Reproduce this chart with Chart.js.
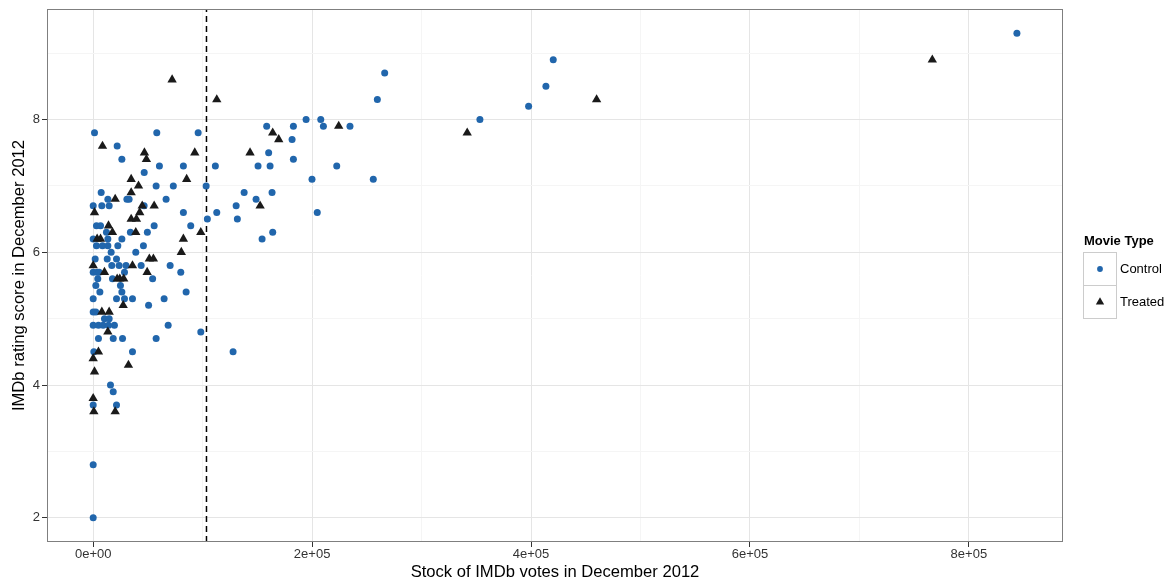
<!DOCTYPE html>
<html>
<head>
<meta charset="utf-8">
<title>IMDb votes vs rating</title>
<script src="https://cdn.jsdelivr.net/npm/chart.js@4.4.1/dist/chart.umd.min.js"></script>
<style>
  html, body { margin: 0; padding: 0; background: #fff; }
  canvas { display: block; }
</style>
</head>
<body>
<canvas id="chart" width="1167" height="582"></canvas>
<script>
// series
const seriesNames = ['Control', 'Treated'];
const seriesColors = ['#2166ac', '#1a1a1a'];

// [votes, rating]
const controlPoints = [
  [1200, 7.8], [58100, 7.8], [95900, 7.8],
  [21900, 7.6], [26200, 7.4],
  [60500, 7.3], [82400, 7.3], [111600, 7.3],
  [46600, 7.2],
  [57500, 7.0], [73200, 7.0], [103200, 7.0],
  [7300, 6.9],
  [13400, 6.8], [30800, 6.8], [32800, 6.8], [66600, 6.8],
  [0, 6.7], [7900, 6.7], [14600, 6.7], [46500, 6.7],
  [82400, 6.6], [112900, 6.6],
  [104300, 6.5],
  [3000, 6.4], [6700, 6.4], [55700, 6.4], [89100, 6.4],
  [12100, 6.3], [34000, 6.3], [49500, 6.3],
  [0, 6.2], [13400, 6.2], [26200, 6.2],
  [3000, 6.1], [8500, 6.1], [13400, 6.1], [22500, 6.1], [45900, 6.1],
  [16400, 6.0], [38900, 6.0],
  [1800, 5.9], [12800, 5.9], [21300, 5.9],
  [17000, 5.8], [23700, 5.8], [30000, 5.8], [43800, 5.8], [70300, 5.8],
  [0, 5.7], [3600, 5.7], [5500, 5.7], [28600, 5.7], [80000, 5.7],
  [4200, 5.6], [17600, 5.6], [54300, 5.6],
  [2400, 5.5], [24900, 5.5],
  [6100, 5.4], [26200, 5.4], [84900, 5.4],
  [0, 5.3], [21300, 5.3], [28600, 5.3], [35900, 5.3], [64800, 5.3],
  [50600, 5.2],
  [0, 5.1], [2400, 5.1],
  [10300, 5.0], [14600, 5.0],
  [0, 4.9], [4800, 4.9], [9100, 4.9], [14000, 4.9], [19400, 4.9], [68500, 4.9],
  [98300, 4.8],
  [4800, 4.7], [18300, 4.7], [26800, 4.7], [57500, 4.7],
  [600, 4.5], [35900, 4.5], [127800, 4.5],
  [15800, 4.0], [18300, 3.9],
  [0, 3.7], [21300, 3.7],
  [0, 2.8], [0, 2.0],
  [130600, 6.7], [131700, 6.5], [137900, 6.9], [148800, 6.8], [150600, 7.3],
  [154300, 6.2], [158500, 7.9], [160300, 7.5], [161600, 7.3], [163400, 6.9],
  [164000, 6.3], [181700, 7.7], [182900, 7.9], [182900, 7.4], [194500, 8.0],
  [199900, 7.1], [204700, 6.6], [207900, 8.0], [210300, 7.9], [222500, 7.3],
  [234600, 7.9], [255900, 7.1], [259600, 8.3], [266300, 8.7], [353300, 8.0],
  [397800, 8.2], [413600, 8.5], [420300, 8.9], [843900, 9.3]
];

const treatedPoints = [
  [72100, 8.6], [112900, 8.3],
  [8500, 7.6],
  [46800, 7.5], [92800, 7.5], [143300, 7.5],
  [48600, 7.4],
  [34700, 7.1], [85400, 7.1],
  [41400, 7.0],
  [34700, 6.9],
  [20100, 6.8],
  [44800, 6.7], [55700, 6.7], [152500, 6.7],
  [1200, 6.6], [42500, 6.6],
  [34700, 6.5], [39500, 6.5],
  [14000, 6.4],
  [17600, 6.3], [38900, 6.3], [98300, 6.3],
  [3600, 6.2], [6700, 6.2], [82400, 6.2],
  [80500, 6.0],
  [51300, 5.9], [55000, 5.9],
  [0, 5.8], [35900, 5.8],
  [10300, 5.7], [49300, 5.7],
  [21900, 5.6], [24300, 5.6], [27900, 5.6],
  [27400, 5.2],
  [7900, 5.1], [14600, 5.1],
  [13400, 4.8],
  [4800, 4.5],
  [0, 4.4],
  [32200, 4.3],
  [1200, 4.2],
  [0, 3.8],
  [600, 3.6], [20100, 3.6],
  [164000, 7.8], [169500, 7.7], [224300, 7.9], [341700, 7.8],
  [459900, 8.3], [766600, 8.9]
];

const cutoffVotes = 103500;

// axes
const xTickValues = [0, 200000, 400000, 600000, 800000];
const xTickLabels = ['0e+00', '2e+05', '4e+05', '6e+05', '8e+05'];
const yTickValues = [2, 4, 6, 8];
const yTickLabels = ['2', '4', '6', '8'];
const X_MIN = -42200, X_MAX = 886000;
const Y_MIN = 1.635, Y_MAX = 9.665;

const FONT = '"Liberation Sans", Arial, Helvetica, sans-serif';

function isMajor(list, v) {
  return list.some(m => Math.abs(m - v) < 1e-6);
}

function withMinor(majors, min, max) {
  const step = majors[1] - majors[0];
  const all = majors.slice();
  majors.forEach(m => {
    [m - step / 2, m + step / 2].forEach(v => {
      if (v > min && v < max && !all.some(a => Math.abs(a - v) < 1e-6)) all.push(v);
    });
  });
  return all.sort((a, b) => a - b);
}

function labelFor(values, labels, v) {
  const i = values.findIndex(m => Math.abs(m - v) < 1e-6);
  return i >= 0 ? labels[i] : '';
}

function toXY(points) {
  return points.map(([x, y]) => ({ x, y }));
}

function drawMarker(ctx, style, x, y, r, color) {
  ctx.save();
  ctx.fillStyle = color;
  ctx.beginPath();
  if (style === 'triangle') {
    const s = Math.sin(Math.PI / 3) * r;
    ctx.moveTo(x, y - r);
    ctx.lineTo(x + s, y + r / 2);
    ctx.lineTo(x - s, y + r / 2);
    ctx.closePath();
  } else {
    ctx.arc(x, y, r, 0, Math.PI * 2);
  }
  ctx.fill();
  ctx.restore();
}

// ggplot-like panel border drawn on top of the points
const panelBorder = {
  id: 'panelBorder',
  afterDatasetsDraw(chart) {
    const { ctx, chartArea: a } = chart;
    ctx.save();
    ctx.strokeStyle = '#7f7f7f';
    ctx.lineWidth = 1;
    ctx.strokeRect(Math.round(a.left) + 0.5, Math.round(a.top) + 0.5,
      Math.round(a.right - a.left) - 1, Math.round(a.bottom - a.top) - 1);
    ctx.restore();
  }
};

// boxed legend on the right
const boxLegend = {
  id: 'boxLegend',
  afterDraw(chart) {
    const { ctx } = chart;
    const left = 1083, top = 252, key = 33;
    const styles = ['circle', 'triangle'];
    const sizes = [2.9, 4.8];
    ctx.save();
    ctx.fillStyle = '#000';
    ctx.font = 'bold 13px ' + FONT;
    ctx.textBaseline = 'middle';
    ctx.textAlign = 'left';
    ctx.fillText('Movie Type', left + 1, 241);
    seriesNames.forEach((name, i) => {
      const y0 = top + i * key;
      ctx.strokeStyle = '#cccccc';
      ctx.lineWidth = 1;
      ctx.strokeRect(left + 0.5, y0 + 0.5, key, key);
      drawMarker(ctx, styles[i], left + 17, y0 + 17, sizes[i], seriesColors[i]);
      ctx.fillStyle = '#000';
      ctx.font = '13px ' + FONT;
      ctx.fillText(name, left + 37, y0 + 17);
    });
    ctx.restore();
  }
};

const gridColor = majors => c => isMajor(majors, c.tick.value) ? '#e5e5e5' : '#f5f5f5';
const tickColor = majors => c => isMajor(majors, c.tick.value) ? '#333333' : 'rgba(0,0,0,0)';

new Chart(document.getElementById('chart'), {
  type: 'scatter',
  data: {
    datasets: [
      {
        label: 'cutoff',
        type: 'line',
        data: [{ x: cutoffVotes, y: Y_MIN }, { x: cutoffVotes, y: Y_MAX }],
        borderColor: '#000',
        borderWidth: 1.5,
        borderDash: [6, 4],
        pointRadius: 0,
        fill: false,
        order: 3
      },
      {
        label: seriesNames[0],
        data: toXY(controlPoints),
        pointStyle: 'circle',
        pointRadius: 3.5,
        backgroundColor: seriesColors[0],
        borderWidth: 0,
        order: 2
      },
      {
        label: seriesNames[1],
        data: toXY(treatedPoints),
        pointStyle: 'triangle',
        pointRadius: 5.4,
        backgroundColor: seriesColors[1],
        borderWidth: 0,
        order: 1
      }
    ]
  },
  options: {
    responsive: false,
    animation: false,
    layout: { padding: { top: 9, right: 104, bottom: 0, left: 0 } },
    plugins: {
      legend: { display: false },
      tooltip: { enabled: false }
    },
    scales: {
      x: {
        type: 'linear',
        min: X_MIN,
        max: X_MAX,
        afterBuildTicks: scale => {
          scale.ticks = withMinor(xTickValues, X_MIN, X_MAX).map(v => ({ value: v }));
        },
        afterFit: scale => {
          scale.height = 40;
          scale.paddingLeft = 0;
          scale.paddingRight = 0;
        },
        ticks: {
          autoSkip: false,
          maxRotation: 0,
          padding: 0,
          color: '#333',
          font: { family: FONT, size: 13 },
          callback: v => labelFor(xTickValues, xTickLabels, v)
        },
        grid: {
          color: gridColor(xTickValues),
          tickColor: tickColor(xTickValues),
          tickLength: 5,
          lineWidth: 1
        },
        border: { display: false },
        title: {
          display: true,
          text: 'Stock of IMDb votes in December 2012',
          color: '#000',
          font: { family: FONT, size: 16.6 },
          padding: { top: 0, bottom: 0 }
        }
      },
      y: {
        type: 'linear',
        min: Y_MIN,
        max: Y_MAX,
        afterBuildTicks: scale => {
          scale.ticks = withMinor(yTickValues, Y_MIN, Y_MAX).map(v => ({ value: v }));
        },
        afterFit: scale => {
          scale.width = 47;
          scale.paddingTop = 0;
          scale.paddingBottom = 0;
        },
        ticks: {
          autoSkip: false,
          padding: 2,
          color: '#333',
          font: { family: FONT, size: 13 },
          callback: v => labelFor(yTickValues, yTickLabels, v)
        },
        grid: {
          color: gridColor(yTickValues),
          tickColor: tickColor(yTickValues),
          tickLength: 5,
          lineWidth: 1
        },
        border: { display: false },
        title: {
          display: true,
          text: 'IMDb rating score in December 2012',
          color: '#000',
          font: { family: FONT, size: 16.6 },
          padding: { top: 9, bottom: 0 }
        }
      }
    }
  },
  plugins: [panelBorder, boxLegend]
});
</script>
</body>
</html>
